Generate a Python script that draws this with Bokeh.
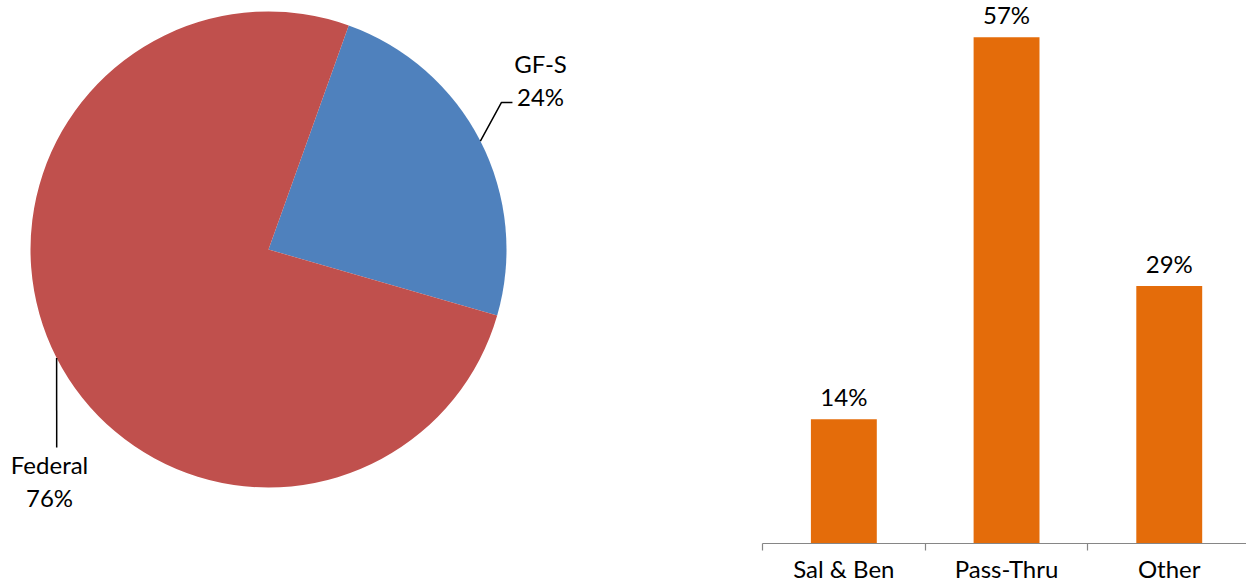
import numpy as np
from bokeh.plotting import figure
from bokeh.layouts import row
from bokeh.models import Range1d, FixedTicker, ColumnDataSource
from bokeh.core.properties import value
from bokeh.embed import file_html
from bokeh.resources import INLINE

# ---- data ----
pie_labels = ["GF-S", "Federal"]
pie_values = [24, 76]
pie_colors = ["#4F81BD", "#C0504D"]

bar_categories = ["Sal & Ben", "Pass-Thru", "Other"]
bar_values = [14, 57, 29]
bar_color = "#E46C0A"

FONT = "Lato"
FS = "24px"

H = 586
B = 43          # bottom border (axis panel) shared by both plots in the row
F = H - B       # frame height

# ---- pie ----
R = 238.0       # pixels per unit radius
start_deg = 70.3
fr = np.array(pie_values, dtype=float) / sum(pie_values)
cum = np.concatenate([[0.0], np.cumsum(fr)])
ends = np.radians(start_deg - cum[:-1] * 360.0)
starts = np.radians(start_deg - cum[1:] * 360.0)
mids = (starts + ends) / 2.0

p1 = figure(width=692, height=H, x_range=Range1d(-268 / R, (692 - 268) / R),
            y_range=Range1d(-(F - 249) / R, 249 / R), output_backend="svg",
            toolbar_location=None, min_border=0)
p1.axis.visible = False
p1.grid.visible = False
p1.outline_line_color = None

src = ColumnDataSource(dict(start=starts, end=ends, color=pie_colors, label=pie_labels))
p1.wedge(x=0, y=0, radius=1, start_angle="start", end_angle="end",
         fill_color="color", line_color=None, source=src)

# label placement (data units, radius = 1)
label_pos = {
    "GF-S": dict(path=[(0.979, 0.618), (1.025, 0.618)], tx=1.143, ty=(0.782, 0.643)),
    "Federal": dict(path=[(-0.890, -0.832)], tx=-0.920, ty=(-0.903, -1.042)),
}
for lab, v, m in zip(pie_labels, pie_values, mids):
    lp = label_pos[lab]
    xs = [np.cos(m)] + [pt[0] for pt in lp["path"]]
    ys = [np.sin(m)] + [pt[1] for pt in lp["path"]]
    p1.line(xs, ys, line_color="black", line_width=1.5)
    p1.text(x=[lp["tx"], lp["tx"]], y=list(lp["ty"]), text=[lab, f"{v}%"],
            text_align="center", text_baseline="middle",
            text_font=value(FONT), text_font_size=FS, text_color="black")

# ---- bars ----
PX_PER_CAT = 162.7
PX_PER_PCT = 8.88
xs = np.arange(len(bar_categories)) + 0.5
p2 = figure(width=1246 - 692, height=H, x_range=Range1d(0, (1246 - 762) / PX_PER_CAT),
            y_range=Range1d(0, F / PX_PER_PCT),
            output_backend="svg", toolbar_location=None, y_axis_location=None,
            min_border_left=762 - 692, min_border_right=0, min_border_top=0, min_border_bottom=B)
p2.grid.visible = False
p2.outline_line_color = None
p2.vbar(x=xs, top=bar_values, width=0.405, fill_color=bar_color, line_color=None)
p2.text(x=xs, y=bar_values, text=[f"{v}%" for v in bar_values],
        text_align="center", text_baseline="bottom", y_offset=-8,
        text_font=value(FONT), text_font_size=FS, text_color="black")

ax = p2.xaxis[0]
ax.ticker = FixedTicker(ticks=list(xs), minor_ticks=list(range(len(bar_categories) + 1)))
ax.major_label_overrides = {float(x): c for x, c in zip(xs, bar_categories)}
ax.major_tick_out = 0
ax.major_tick_in = 0
ax.minor_tick_out = 7
ax.minor_tick_in = 0
ax.axis_line_color = "#868686"
ax.minor_tick_line_color = "#868686"
ax.axis_line_width = 1.2
ax.minor_tick_line_width = 1.2
ax.major_label_standoff = 3
ax.major_label_text_font = FONT
ax.major_label_text_font_size = FS
ax.major_label_text_color = "black"

layout = row(p1, p2)
open("out.html", "w").write(file_html(layout, INLINE))
